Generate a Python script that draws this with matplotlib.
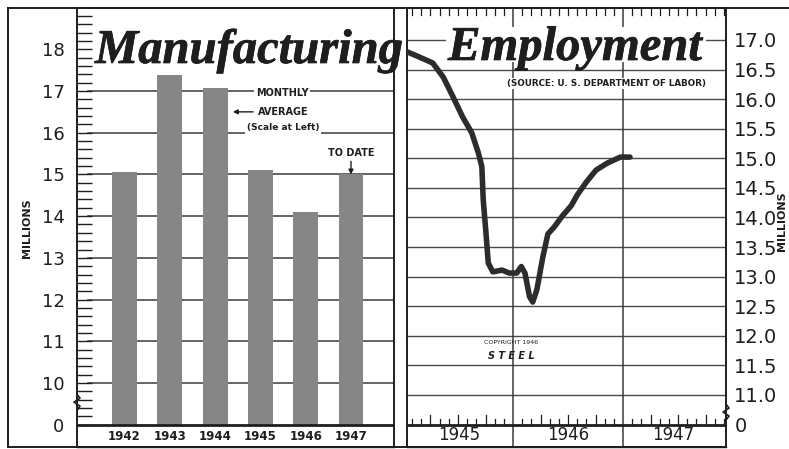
import numpy as np
import matplotlib.pyplot as plt
import matplotlib.patheffects as pe
from matplotlib.lines import Line2D
from matplotlib.patches import Rectangle

# Monthly average manufacturing employment (millions), 1942-1947
years = ["1942", "1943", "1944", "1945", "1946", "1947"]
avg_millions = [15.05, 17.38, 17.08, 15.1, 14.1, 15.0]

# Monthly trend, months counted from Jan 1945
trend_month = [0.45, 1.8, 3.25, 4.4, 5.45, 6.5, 7.5, 8.2, 8.6, 8.75, 9.05, 9.3,
               9.8, 10.8, 11.6, 12.4, 12.9, 13.3, 13.8, 14.15, 14.6, 15.25,
               15.8, 16.5, 17.35, 18.35, 19.0, 20.0, 21.05, 22.3, 23.7, 24.75]
trend_millions = [16.8, 16.71, 16.61, 16.37, 16.04, 15.7, 15.43, 15.1, 14.86,
                  14.3, 13.74, 13.23, 13.08, 13.11, 13.06, 13.06, 13.17, 13.06,
                  12.66, 12.57, 12.78, 13.33, 13.72, 13.84, 14.02, 14.2, 14.38,
                  14.6, 14.8, 14.92, 15.02, 15.02]
trend_years = ["1945", "1946", "1947"]

left_ticks = list(range(9, 19))
left_labels = ["0"] + [str(v) for v in range(10, 19)]
right_ticks = [10.5] + list(np.arange(11, 17.01, 0.5))
right_labels = ["0"] + [f"{v:.1f}" for v in np.arange(11, 17.01, 0.5)]

W, H = 789, 449
fig = plt.figure(figsize=(W / 100, H / 100), dpi=100)
fig.patch.set_facecolor("white")
ink = "#1e1e1e"


def px_rect(l, r, t, b):
    return [l / W, (H - b) / H, (r - l) / W, (b - t) / H]


# ---- left panel: yearly bars ----
ax1 = fig.add_axes(px_rect(77, 394, 8, 447))
ax1.set_xlim(-1.05, 5.95)
ax1.set_ylim(8.465, 18.99)
ax1.set_xticks([])
ax1.set_yticks(left_ticks)
ax1.set_yticklabels(left_labels)
ax1.tick_params(axis="y", which="major", length=0, pad=9, labelsize=13, labelcolor=ink)
ax1.set_yticks(np.arange(9, 19.0, 0.2), minor=True)
ax1.yaxis.remove_overlapping_locs = False
ax1.tick_params(axis="y", which="minor", direction="in", length=11, width=1, color=ink)
for s in ax1.spines.values():
    s.set_color(ink)
    s.set_linewidth(1.4)
ax1.spines["bottom"].set_linewidth(1.0)

for v in range(10, 18):
    ax1.axhline(v, xmin=0.035, color="#3a3a3a", lw=1.1, zorder=1)
ax1.bar(range(len(years)), np.array(avg_millions) - 9, bottom=9, width=0.55,
        color="#868686", zorder=2)
ax1.axhline(9, color=ink, lw=2, zorder=3)
for i, y in enumerate(years):
    ax1.text(i, 8.71, y, ha="center", va="center", fontsize=8.5,
             fontweight="bold", color=ink)

box = dict(boxstyle="square,pad=0.15", fc="white", ec="none")
ax1.text(3.48, 16.95, "MONTHLY", ha="center", va="center", fontsize=7,
         fontweight="bold", color=ink, bbox=box, zorder=4)
ax1.text(3.5, 16.5, "AVERAGE", ha="center", va="center", fontsize=7,
         fontweight="bold", color=ink, zorder=4)
ax1.annotate("", xy=(2.33, 16.5), xytext=(2.9, 16.5),
             arrowprops=dict(arrowstyle="-|>", color=ink, lw=1, mutation_scale=7))
ax1.text(3.5, 16.12, "(Scale at Left)", ha="center", va="center", fontsize=6.5,
         fontweight="bold", color=ink, bbox=box, zorder=4)
ax1.text(5.0, 15.52, "TO DATE", ha="center", va="center", fontsize=7,
         fontweight="bold", color=ink, zorder=4)
ax1.annotate("", xy=(5.0, 14.93), xytext=(5.0, 15.38),
             arrowprops=dict(arrowstyle="-|>", color=ink, lw=1, mutation_scale=7),
             zorder=4)

# axis break mark on the left spine
zx = np.array([0, 3, -3, 3, 0]) / 45.3 - 1.05
zy = np.array([-8, -4, 0, 4, 8]) / 41.7 + 9.54
ax1.plot(zx, zy, color=ink, lw=1.2, clip_on=False, zorder=5)

# ---- right panel: monthly trend ----
ax2 = fig.add_axes(px_rect(407, 726, 8, 447))
ax2.set_xlim(0.44, 35.22)
ax2.set_ylim(10.12, 17.54)
ax2.set_xticks([])
ax2.yaxis.tick_right()
ax2.set_yticks(right_ticks)
ax2.set_yticklabels(right_labels)
ax2.tick_params(axis="y", length=0, pad=6, labelsize=14, labelcolor=ink)
for s in ax2.spines.values():
    s.set_color(ink)
    s.set_linewidth(1.4)
ax2.spines["bottom"].set_linewidth(1.0)

for v in np.arange(11, 17.01, 0.5):
    ax2.axhline(v, color="#4a4a4a", lw=1, zorder=1)
for m in (12, 24):
    ax2.axvline(m, color="#3a3a3a", lw=1.1, zorder=1)
ax2.axhline(10.5, color=ink, lw=2, zorder=3)

months = np.arange(1, 36)
months = months[months % 12 != 0]
for m in months:
    tall = 0.16 if m % 3 == 0 else 0.1
    ax2.plot([m, m], [10.5, 10.5 + tall], color=ink, lw=0.9, zorder=3)
    ax2.plot([m, m], [17.54, 17.42], color=ink, lw=0.9, zorder=3)

for x, y in zip([6.1, 18.0, 29.5], trend_years):
    ax2.text(x, 10.33, y, ha="center", va="center", fontsize=12, color=ink)

# clear band behind the script title
ax2.add_patch(Rectangle((4.7, 16.62), 28.3, 0.6, fc="white", ec="none", zorder=2))

ax2.plot(trend_month, trend_millions, color="#2c2c2c", lw=4,
         solid_capstyle="round", solid_joinstyle="round", zorder=4)

ax2.text(22.14, 16.27, "(SOURCE: U. S. DEPARTMENT OF LABOR)", ha="center",
         va="center", fontsize=6.3, fontweight="bold", color=ink,
         bbox=dict(boxstyle="square,pad=0.1", fc="white", ec="none"), zorder=4)
ax2.text(11.78, 11.88, "COPYRIGHT 1946", ha="center", va="center", fontsize=4.5,
         color=ink, zorder=4)
ax2.text(11.78, 11.66, "S T E E L", ha="center", va="center", fontsize=7,
         fontweight="bold", fontstyle="italic", color=ink, zorder=4)

zx = np.array([0, 3, -3, 3, 0]) / 9.17 + 35.22
zy = np.array([-8, -4, 0, 4, 8]) / 59.2 + 10.71
ax2.plot(zx, zy, color=ink, lw=1.2, clip_on=False, zorder=5)

# ---- titles, side labels and outer frame ----
title_font = dict(family="Liberation Serif", fontweight="bold", fontstyle="italic",
                  fontsize=35, color=ink, va="baseline", ha="left",
                  path_effects=[pe.withStroke(linewidth=0.5, foreground=ink)])
fig.text(95 / W, 1 - 63 / H, "Manufacturing", **title_font)
fig.text(448 / W, 1 - 60 / H, "Employment", **title_font)

fig.text(27 / W, 1 - 228 / H, "MILLIONS", rotation=90, ha="center", va="center",
         fontsize=8, fontweight="bold", color=ink)
fig.text(782 / W, 1 - 221 / H, "MILLIONS", rotation=90, ha="center", va="center",
         fontsize=8, fontweight="bold", color=ink)

for (x0, y0), (x1, y1) in [((8, 8), (8, 447)), ((8, 8), (789, 8)),
                           ((8, 447), (726, 447))]:
    fig.add_artist(Line2D([x0 / W, x1 / W], [1 - y0 / H, 1 - y1 / H],
                          color=ink, lw=1.4))

fig.savefig("out.png", dpi=100, facecolor="white")
